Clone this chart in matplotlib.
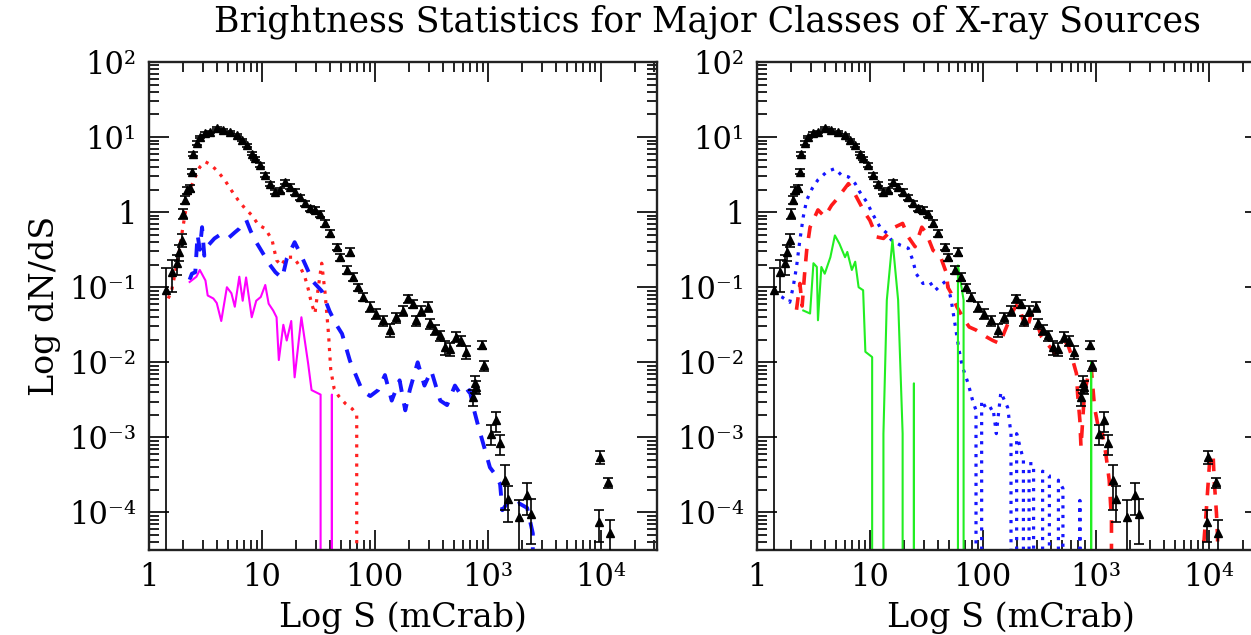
import numpy as np
import matplotlib
matplotlib.use("Agg")
import matplotlib.pyplot as plt
from matplotlib.ticker import LogLocator, NullFormatter

plt.rcParams['font.family'] = ['DejaVu Serif']

# values, in log10 units (as on the axis labels)
# None = empty bin (zero sources)

# total sample, black triangles with error bars (err = fractional error)
tot_logs = [0.150, 0.201, 0.245, 0.268, 0.289, 0.304, 0.319, 0.334, 0.363, 0.378,
            0.392, 0.422, 0.451, 0.496, 0.540, 0.599, 0.658, 0.717, 0.776, 0.820,
            0.864, 0.909, 0.938, 0.982, 1.027, 1.071, 1.115, 1.159, 1.204, 1.248,
            1.292, 1.336, 1.381, 1.425, 1.469, 1.513, 1.558, 1.602, 1.661, 1.690,
            1.750, 1.779, 1.808, 1.852, 1.897, 1.956, 2.015, 2.074, 2.133, 2.192,
            2.251, 2.295, 2.339, 2.369, 2.413, 2.472, 2.487, 2.531, 2.575, 2.619,
            2.664, 2.723, 2.767, 2.811, 2.870, 2.885, 2.900, 2.950, 2.968, 3.031,
            3.075, 3.106, 3.150, 3.180, 3.274, 3.348, 3.387, 3.985, 3.991, 4.065,
            4.085]
tot_logn = [-1.04, -0.80, -0.68, -0.53, -0.37, -0.02, 0.16, 0.29, 0.32, 0.54,
            0.78, 0.92, 1.00, 1.05, 1.07, 1.12, 1.09, 1.07, 1.03, 0.96,
            0.89, 0.78, 0.72, 0.63, 0.49, 0.38, 0.27, 0.29, 0.40, 0.34,
            0.27, 0.20, 0.12, 0.05, 0.03, -0.02, -0.15, -0.28, -0.46, -0.60,
            -0.77, -0.53, -0.86, -1.00, -1.13, -1.26, -1.35, -1.44, -1.57, -1.40,
            -1.31, -1.15, -1.22, -1.44, -1.31, -1.26, -1.48, -1.57, -1.64, -1.80,
            -1.82, -1.66, -1.71, -1.86, -2.46, -2.28, -2.33, -1.77, -2.04, -2.95,
            -2.77, -3.08, -3.57, -3.82, -4.06, -3.77, -4.02, -4.13, -3.26, -3.60,
            -4.28]
tot_err = [1.0, 0.45, 0.3, 0.25, 0.2, 0.15, 0.12, 0.1, 0.1, 0.08,
           0.06, 0.05, 0.04, 0.04, 0.04, 0.04, 0.04, 0.04, 0.04, 0.04,
           0.05, 0.05, 0.05, 0.05, 0.06, 0.06, 0.07, 0.07, 0.07, 0.07,
           0.08, 0.08, 0.08, 0.08, 0.08, 0.09, 0.1, 0.1, 0.1, 0.1,
           0.12, 0.12, 0.12, 0.12, 0.12, 0.15, 0.15, 0.15, 0.2, 0.15,
           0.15, 0.12, 0.12, 0.15, 0.15, 0.15, 0.15, 0.15, 0.15, 0.2,
           0.2, 0.15, 0.15, 0.2, 0.25, 0.25, 0.2, 0.12, 0.15, 0.3,
           0.3, 0.3, 0.6, 0.5, 0.7, 0.45, 0.6, 0.45, 0.2, 0.15,
           0.5]

# left panel: red dotted
lred_logs = [0.17, 0.20, 0.23, 0.26, 0.29, 0.32, 0.36, 0.41, 0.45, 0.50,
             0.55, 0.61, 0.67, 0.73, 0.79, 0.85, 0.91, 0.97, 1.03, 1.09,
             1.13, 1.17, 1.22, 1.28, 1.34, 1.38, 1.41, 1.44, 1.47, 1.50,
             1.53, 1.56, 1.59, 1.61, 1.64, 1.68, 1.74, 1.80, 1.84, 1.86]
lred_logn = [-1.15, -1.05, -0.82, -0.60, -0.30, -0.02, 0.29, 0.47, 0.60, 0.67,
             0.63, 0.54, 0.43, 0.29, 0.16, 0.05, -0.04, -0.17, -0.22, -0.37,
             -0.64, -0.71, -0.60, -0.60, -0.73, -0.86, -1.02, -1.22, -1.35, -1.00,
             -0.68, -1.08, -1.62, -2.10, -2.35, -2.45, -2.55, -2.62, -2.70, None]

# left panel: blue dashed
lblue_logs = [0.36, 0.38, 0.41, 0.43, 0.45, 0.47, 0.49, 0.52, 0.58, 0.63,
              0.70, 0.76, 0.80, 0.86, 0.90, 0.95, 1.01, 1.07, 1.12, 1.18,
              1.22, 1.29, 1.34, 1.40, 1.45, 1.53, 1.60, 1.66, 1.71, 1.78,
              1.84, 1.89, 1.96, 2.03, 2.09, 2.15, 2.22, 2.27, 2.31, 2.38,
              2.44, 2.50, 2.58, 2.64, 2.71, 2.77, 2.84, 2.88, 2.92, 2.96,
              3.02, 3.07, 3.11, 3.13, 3.19, 3.24, 3.28, 3.35, 3.40, 3.42]
lblue_logn = [-0.90, -0.82, -0.80, -0.30, -0.50, -0.20, -0.58, -0.45, -0.35, -0.30,
              -0.35, -0.27, -0.22, -0.10, -0.25, -0.40, -0.55, -0.70, -0.80, -0.88,
              -0.62, -0.40, -0.55, -0.75, -0.92, -1.05, -1.32, -1.50, -1.62, -1.98,
              -2.20, -2.38, -2.45, -2.37, -2.17, -2.51, -2.24, -2.64, -2.37, -2.00,
              -2.31, -2.11, -2.51, -2.57, -2.31, -2.45, -2.37, -2.64, -2.87, -3.08,
              -3.40, -3.50, -3.62, -3.97, -3.84, -3.90, -3.88, -3.94, -4.28, None]

# left panel: magenta solid
lmag_logs = [0.36, 0.42, 0.45, 0.50, 0.52, 0.57, 0.60, 0.64, 0.69, 0.73,
             0.76, 0.80, 0.83, 0.86, 0.91, 0.95, 0.99, 1.03, 1.06, 1.10,
             1.13, 1.15, 1.19, 1.22, 1.26, 1.29, 1.35, 1.41, 1.44, 1.52,
             1.575, 1.62, 1.66]
lmag_logn = [-0.93, -0.86, -0.77, -0.91, -1.11, -1.15, -1.21, -1.45, -1.00, -1.08,
             -1.26, -0.86, -1.18, -0.87, -1.40, -1.18, -1.13, -0.97, -1.22, -1.31,
             -1.40, -1.97, -1.50, -1.71, -1.45, -2.20, -1.40, -2.02, -2.37, -2.43,
             None, -2.43, None]

# right panel: blue dotted
rblue_logs = [0.14, 0.22, 0.29, 0.32, 0.35, 0.38, 0.41, 0.44, 0.49, 0.54,
              0.62, 0.69, 0.75, 0.81, 0.87, 0.91, 0.97, 1.03, 1.09, 1.15,
              1.19, 1.27, 1.34, 1.38, 1.41, 1.47, 1.53, 1.58, 1.63, 1.68,
              1.72, 1.76, 1.79, 1.82, 1.87, 1.91, 1.94, 1.96, 1.99, 2.04,
              2.09, 2.12, 2.16, 2.22, 2.25, 2.28, 2.30, 2.36, 2.38, 2.41,
              2.45, 2.48, 2.53, 2.59, 2.62, 2.67, 2.71, 2.74, 2.86, 2.88]
rblue_logn = [-1.07, -1.13, -1.20, -1.00, -0.73, -0.37, -0.06, 0.16, 0.32, 0.43,
              0.54, 0.58, 0.49, 0.47, 0.38, 0.27, 0.14, -0.04, -0.20, -0.28,
              -0.37, -0.44, -0.48, -0.64, -0.82, -0.95, -0.93, -1.04, -0.97, -0.91,
              -1.17, -1.55, -1.84, -2.06, -2.28, -2.51, -2.64, None, -2.51, -2.64,
              -2.60, -2.95, -2.40, -2.60, -2.95, None, -2.95, -3.30, None, -3.35,
              -3.35, None, -3.45, -3.51, None, -3.57, -3.68, None, -3.84, None]

# right panel: red dashed
rred_logs = [0.35, 0.38, 0.40, 0.42, 0.44, 0.47, 0.54, 0.60, 0.66, 0.70,
             0.78, 0.81, 0.85, 0.91, 0.96, 1.00, 1.06, 1.12, 1.18, 1.22,
             1.29, 1.34, 1.40, 1.46, 1.50, 1.56, 1.62, 1.68, 1.69, 1.72,
             1.77, 1.84, 1.88, 1.94, 2.03, 2.09, 2.15, 2.21, 2.27, 2.31,
             2.36, 2.39, 2.43, 2.48, 2.52, 2.57, 2.64, 2.69, 2.75, 2.78,
             2.83, 2.84, 2.86, 2.87, 2.90, 2.93, 2.96, 2.99, 3.04, 3.06,
             3.09, 3.12, 3.14, 3.15, 3.94, 3.96, 3.98, 4.01, 4.04, 4.05,
             4.07, 4.08, 4.10]
rred_logn = [-1.30, -0.95, -1.25, -0.85, -0.51, -0.20, 0.03, -0.06, 0.09, 0.16,
             0.32, 0.38, 0.29, 0.12, -0.02, -0.11, -0.33, -0.35, -0.26, -0.20,
             -0.15, -0.33, -0.46, -0.20, -0.28, -0.51, -0.57, -0.82, -1.00, -1.08,
             -1.26, -1.44, -1.53, -1.57, -1.66, -1.71, -1.75, -1.53, -1.31, -1.22,
             -1.44, -1.57, -1.35, -1.48, -1.66, -1.75, -1.88, -1.79, -1.75, -1.88,
             -2.15, -2.42, -2.77, -3.13, -2.42, -2.20, -2.06, -2.60, -3.00, -2.95,
             -3.22, -3.57, -4.10, None, None, -4.37, -3.97, -3.31, -3.22, -3.57,
             -4.01, -4.33, None]

# right panel: green solid
rgreen_logs = [0.41, 0.47, 0.50, 0.53, 0.54, 0.57, 0.60, 0.65, 0.69, 0.73,
               0.78, 0.80, 0.84, 0.87, 0.90, 0.94, 0.96, 1.02, 1.03, 1.09,
               1.12, 1.15, 1.20, 1.25, 1.29, 1.31, 1.37, 1.39, 1.41, 1.75,
               1.78, 1.83, 1.87, 2.92, 2.96, 3.01]
rgreen_logn = [-1.31, -1.35, -0.68, -0.73, -1.44, -0.73, -0.82, -0.60, -0.31, -0.42,
               -0.60, -0.53, -0.77, -0.66, -1.00, -1.04, -1.86, -1.93, None, None,
               -2.95, -1.17, -0.37, -1.17, -2.95, None, None, -2.28, None, None,
               -0.71, -1.17, None, None, -2.00, None]


def lin(vals):
    return np.array([0.0 if v is None else 10.0 ** v for v in vals])


S_tot = lin(tot_logs)
N_tot = lin(tot_logn)
frac = np.array(tot_err)
err_lo = N_tot * np.minimum(frac, 1.0)
err_hi = N_tot * frac

fig = plt.figure(figsize=(12.51, 6.35), dpi=100)
W, H = 1251.0, 635.0
ax1 = fig.add_axes([149 / W, 1 - 550 / H, 508 / W, 488 / H])
ax2 = fig.add_axes([757 / W, 1 - 550 / H, 508 / W, 488 / H])

xt = [1, 10, 100, 1e3, 1e4]
xl = ['1', '10', '100', '10³', '10⁴']
yt = [1e-4, 1e-3, 1e-2, 1e-1, 1, 10, 100]
yl = ['10⁻⁴', '10⁻³', '10⁻²', '10⁻¹', '1', '10¹', '10²']

for ax in (ax1, ax2):
    ax.set_xscale('log')
    ax.set_yscale('log')
    ax.errorbar(S_tot, N_tot, yerr=[err_lo, err_hi], fmt='^', color='black',
                ms=6, ecolor='black', elinewidth=1.2, capsize=3.5, capthick=1.2,
                zorder=3)
    ax.set_xlim(1, 10 ** 4.5)
    ax.set_ylim(10 ** -4.5, 100)
    ax.set_xticks(xt, xl)
    ax.set_yticks(yt, yl)
    ax.xaxis.set_minor_locator(LogLocator(base=10, subs=np.arange(2, 10), numticks=20))
    ax.yaxis.set_minor_locator(LogLocator(base=10, subs=np.arange(2, 10), numticks=20))
    ax.xaxis.set_minor_formatter(NullFormatter())
    ax.yaxis.set_minor_formatter(NullFormatter())
    ax.tick_params(which='both', direction='in', top=True, right=True,
                   color='#222222', width=1.4, labelsize=22)
    ax.tick_params(which='major', length=14.5)
    ax.tick_params(which='minor', length=7.5)
    ax.tick_params(axis='x', pad=9)
    ax.tick_params(axis='y', pad=9)
    for sp in ax.spines.values():
        sp.set_linewidth(1.7)
        sp.set_color('#222222')
    ax.set_xlabel('Log S (mCrab)', fontsize=24, labelpad=6)

ax1.plot(lin(lred_logs), lin(lred_logn), color='#ff2020', lw=2.3, ls=(0, (1, 2)), zorder=2)
ax1.plot(lin(lblue_logs), lin(lblue_logn), color='#1515ff', lw=2.8, ls=(0, (3.5, 3)), zorder=2)
ax1.plot(lin(lmag_logs), lin(lmag_logn), color='#ff00ff', lw=1.5, zorder=2)
ax1.set_ylabel('Log dN/dS', fontsize=24, labelpad=6)

ax2.plot(lin(rblue_logs), lin(rblue_logn), color='#1515ff', lw=2.3, ls=(0, (1, 2)), zorder=2)
ax2.plot(lin(rred_logs), lin(rred_logn), color='#ff1a1a', lw=2.6, ls=(0, (3.5, 3)), zorder=2)
ax2.plot(lin(rgreen_logs), lin(rgreen_logn), color='#22ee22', lw=1.5, zorder=2)

fig.text(707 / W, 1 - 22 / H, 'Brightness Statistics for Major Classes of X-ray Sources',
         ha='center', va='center', fontsize=25)

fig.savefig('out.png', dpi=100)
